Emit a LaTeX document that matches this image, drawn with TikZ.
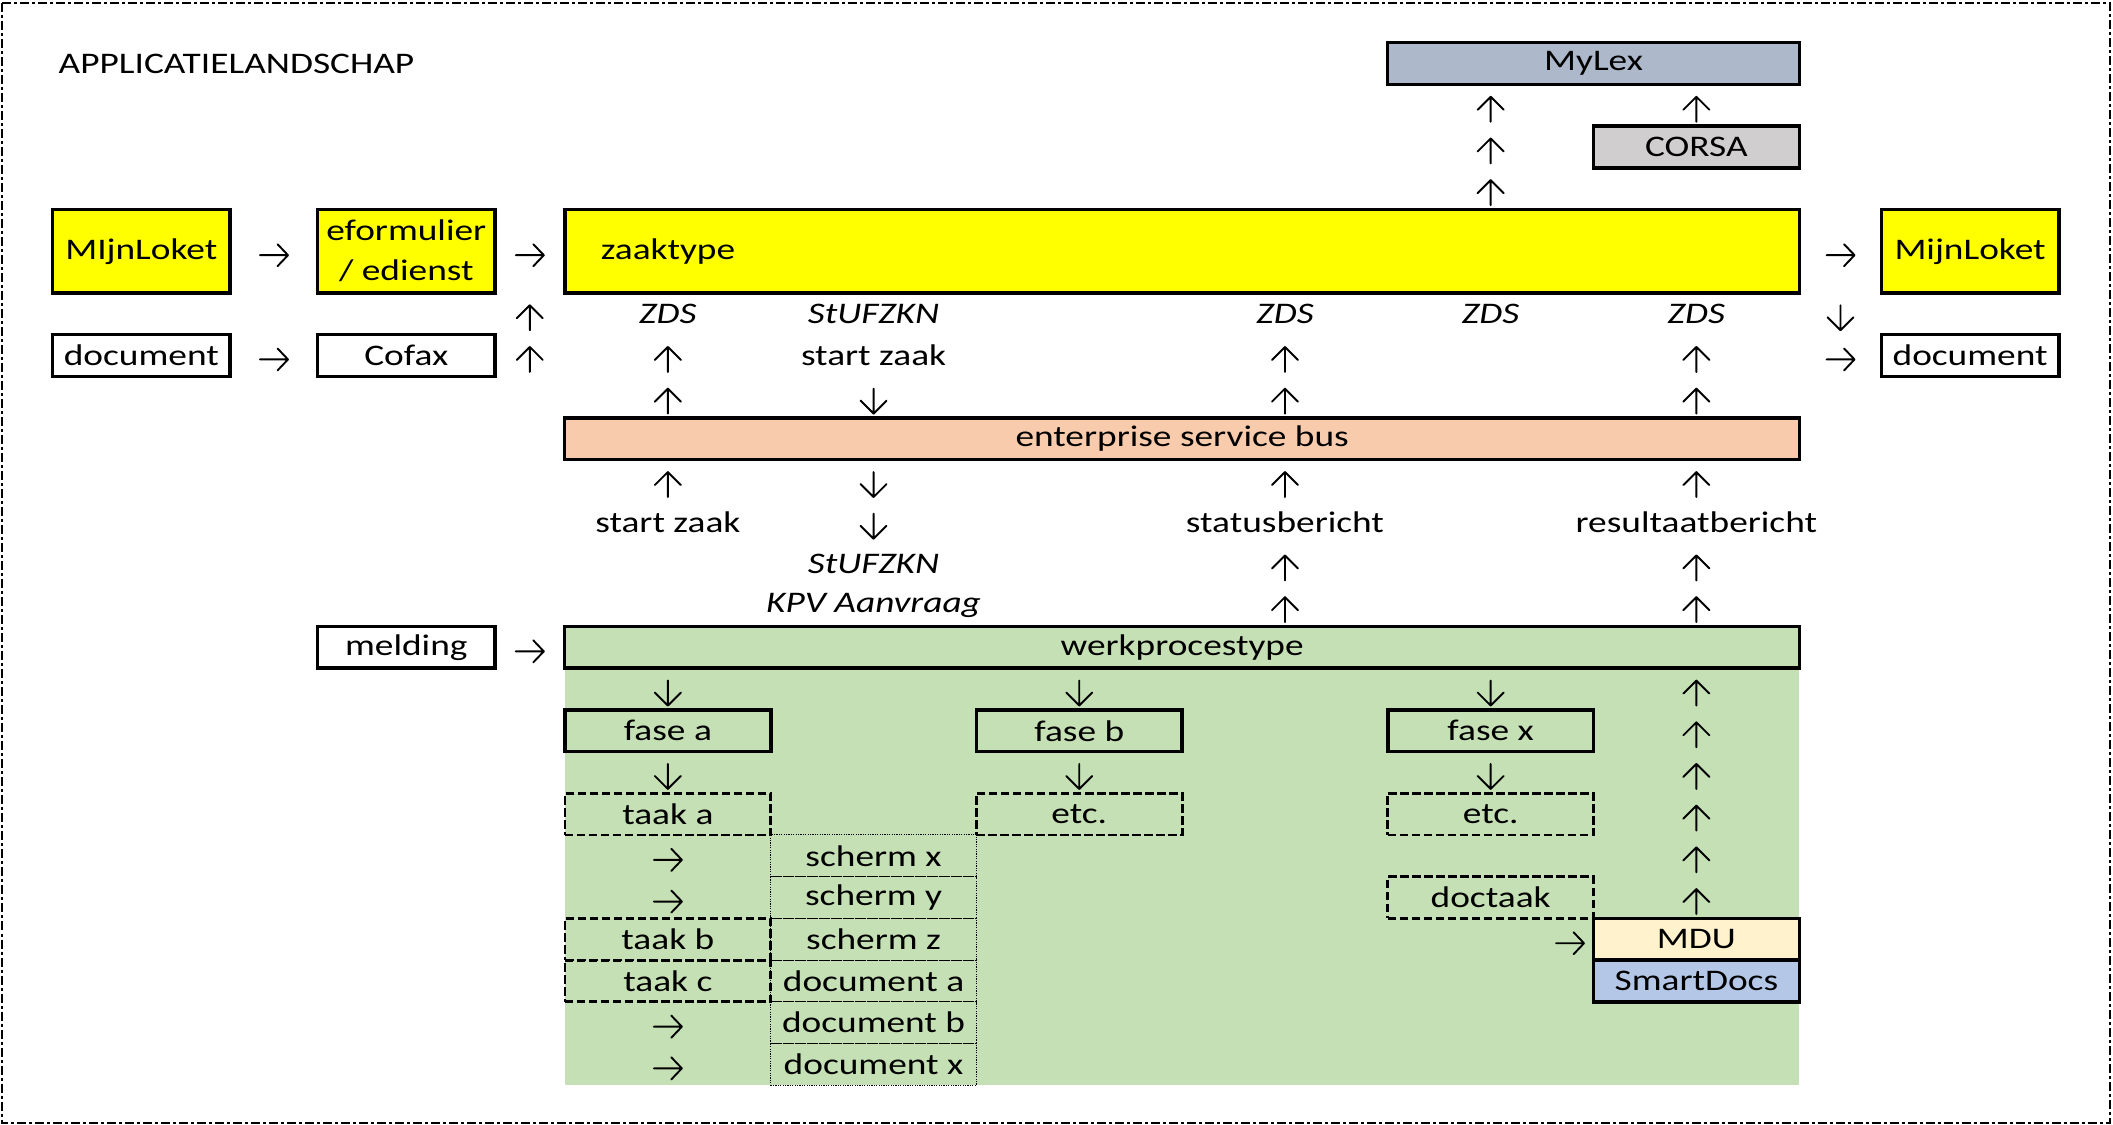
\documentclass[tikz,border=0pt]{standalone}
\usepackage{fontspec}
\setmainfont{Carlito}[FakeStretch=1.25]
\definecolor{yel}{HTML}{FFFF00}
\definecolor{mylexc}{HTML}{ADB9CA}
\definecolor{corsac}{HTML}{D0CECE}
\definecolor{esbc}{HTML}{F8CBAD}
\definecolor{greenc}{HTML}{C5E0B4}
\definecolor{mduc}{HTML}{FFF2CC}
\definecolor{smartc}{HTML}{B4C7E7}
\tikzset{
  every node/.style={font=\fontsize{8.5}{11.4}\selectfont, inner sep=0pt},
  solidbox/.style={draw, line width=0.035cm, minimum height=0.417cm, minimum width=2.057cm},
  sidebox/.style={solidbox, minimum width=1.773cm},
  dashbox/.style={draw, line width=0.028cm, dash pattern=on 0.085cm off 0.035cm, minimum height=0.417cm, minimum width=2.057cm},
  dotbox/.style={draw, line width=0.01cm, dash pattern=on 0.012cm off 0.012cm, minimum height=0.417cm, minimum width=2.057cm},
  wide/.style={minimum width=12.342cm},
  tall/.style={minimum height=0.834cm},
  lbl/.style={inner sep=0pt},
  itl/.style={inner sep=0pt, font=\fontsize{8.5}{11.4}\selectfont\itshape},
  outer/.style={line width=0.025cm, dash pattern=on 0.09cm off 0.03cm on 0.03cm off 0.03cm},
  gline/.style={line width=0.019cm, line cap=round, line join=round},
  glyph/.style={minimum width=0.36cm, minimum height=0.36cm, yshift=-0.04cm},
  arU/.style={glyph, path picture={\draw[gline, shift={(path picture bounding box.center)}]
      (0cm,-0.125cm) -- (0cm,0.125cm) (-0.13cm,-0.005cm) -- (0cm,0.125cm) -- (0.13cm,-0.005cm);}},
  arD/.style={glyph, path picture={\draw[gline, shift={(path picture bounding box.center)}]
      (0cm,0.125cm) -- (0cm,-0.125cm) (-0.13cm,0.005cm) -- (0cm,-0.125cm) -- (0.13cm,0.005cm);}},
  arR/.style={glyph, path picture={\draw[gline, shift={(path picture bounding box.center)}]
      (-0.14cm,0cm) -- (0.14cm,0cm) (0.035cm,0.11cm) -- (0.14cm,0cm) -- (0.035cm,-0.11cm);}}
}
\begin{document}
\begin{tikzpicture}[x=0.01cm, y=-0.01cm]
\useasboundingbox (0,0) rectangle (2113,1125);
\draw[outer] (2,3) rectangle (2110,1123);
% green working area
\fill[greenc] (565,668.2) rectangle (1799.2,1085.2);

\node[lbl, anchor=west] (title) at (58,64) {APPLICATIELANDSCHAP};

% top
\node[solidbox, fill=mylexc, minimum width=4.114cm] (mylex) at (1593.5,63.55) {MyLex};
\node[solidbox, fill=corsac] (corsa) at (1696.35,146.95) {CORSA};

% zaaktype row
\node[sidebox, tall, fill=yel] (mijnL) at (141.35,251.2) {MIjnLoket};
\node[sidebox, tall, fill=yel, align=center] (eform) at (406.3,251.2) {eformulier\\/ edienst};
\node[solidbox, tall, fill=yel, text width=11.62cm, inner xsep=0.36cm, align=left] (zaak) at (1182.1,251.2) {zaaktype};
\node[sidebox, tall, fill=yel] (mijnR) at (1970.1,251.2) {MijnLoket};

% document row
\node[sidebox] (docL) at (141.35,355.45) {document};
\node[sidebox] (cofax) at (406.3,355.45) {Cofax};
\node[sidebox] (docR) at (1970.1,355.45) {document};

% esb
\node[solidbox, wide, fill=esbc] (esb) at (1182.1,438.85) {enterprise service bus};

% werkprocestype
\node[sidebox] (meld) at (406.3,647.35) {melding};
\node[solidbox, wide, fill=greenc] (werk) at (1182.1,647.35) {werkprocestype};

% fases
\node[solidbox] (fasea) at (667.85,730.75) {fase a};
\node[solidbox] (faseb) at (1079.25,730.75) {fase b};
\node[solidbox] (fasex) at (1490.65,730.75) {fase x};

% taken
\node[dashbox] (taaka) at (667.85,814.15) {taak a};
\node[dashbox] (etcb) at (1079.25,814.15) {etc.};
\node[dashbox] (etcx) at (1490.65,814.15) {etc.};
\node[dashbox] (doctaak) at (1490.65,897.55) {doctaak};
\node[dashbox] (taakb) at (667.85,939.25) {taak b};
\node[dashbox] (taakc) at (667.85,980.95) {taak c};

% schermen / documenten
\node[dotbox] (schx) at (873.55,855.85) {scherm x};
\node[dotbox] (schy) at (873.55,897.55) {scherm y};
\node[dotbox] (schz) at (873.55,939.25) {scherm z};
\node[dotbox] (doca) at (873.55,980.95) {document a};
\node[dotbox] (docb) at (873.55,1022.65) {document b};
\node[dotbox] (docx) at (873.55,1064.35) {document x};

% MDU / SmartDocs
\node[solidbox, fill=mduc] (mdu) at (1696.35,939.25) {MDU};
\node[solidbox, fill=smartc] (smart) at (1696.35,980.95) {SmartDocs};

% labels
\node[itl] (zds1) at (667.85,313.75) {ZDS};
\node[itl] (stuf1) at (873.55,313.75) {StUFZKN};
\node[itl] (zds4) at (1284.95,313.75) {ZDS};
\node[itl] (zds5) at (1490.65,313.75) {ZDS};
\node[itl] (zds6) at (1696.35,313.75) {ZDS};
\node[lbl] (sz1) at (873.55,355.45) {start zaak};
\node[lbl] (sz2) at (667.85,522.25) {start zaak};
\node[lbl] (stat) at (1284.95,522.25) {statusbericht};
\node[lbl] (res) at (1696.35,522.25) {resultaatbericht};
\node[itl] (stuf2) at (873.55,563.95) {StUFZKN};
\node[itl] (kpv) at (873.55,605.65) {KPV Aanvraag};

% arrow glyphs
\foreach \n/\x/\y/\g in {
  ga1/274/251.2/arR, ga2/529.8/251.2/arR, ga3/1840.5/251.2/arR,
  gt1/1490.65/105.25/arU, gt2/1696.35/105.25/arU, gt3/1490.65/146.95/arU, gt4/1490.65/188.65/arU,
  g71/529.8/313.75/arU, g72/1840.5/313.75/arD,
  g81/274/355.45/arR, g82/529.8/355.45/arU, g83/667.85/355.45/arU, g84/1284.95/355.45/arU, g85/1696.35/355.45/arU, g86/1840.5/355.45/arR,
  g91/667.85/397.15/arU, g92/873.55/397.15/arD, g93/1284.95/397.15/arU, g94/1696.35/397.15/arU,
  g111/667.85/480.55/arU, g112/873.55/480.55/arD, g113/1284.95/480.55/arU, g114/1696.35/480.55/arU,
  g121/873.55/522.25/arD,
  g131/1284.95/563.95/arU, g132/1696.35/563.95/arU,
  g141/1284.95/605.65/arU, g142/1696.35/605.65/arU,
  g151/529.8/647.35/arR,
  g161/667.85/689.05/arD, g162/1079.25/689.05/arD, g163/1490.65/689.05/arD, g164/1696.35/689.05/arU,
  g171/1696.35/730.75/arU,
  g181/667.85/772.45/arD, g182/1079.25/772.45/arD, g183/1490.65/772.45/arD, g184/1696.35/772.45/arU,
  g191/1696.35/814.15/arU,
  g201/667.85/855.85/arR, g202/1696.35/855.85/arU,
  g211/667.85/897.55/arR, g212/1696.35/897.55/arU,
  g221/1570/939.25/arR,
  g241/667.85/1022.65/arR,
  g251/667.85/1064.35/arR}
  { \node[\g] (\n) at (\x,\y) {}; }
\end{tikzpicture}
\end{document}
